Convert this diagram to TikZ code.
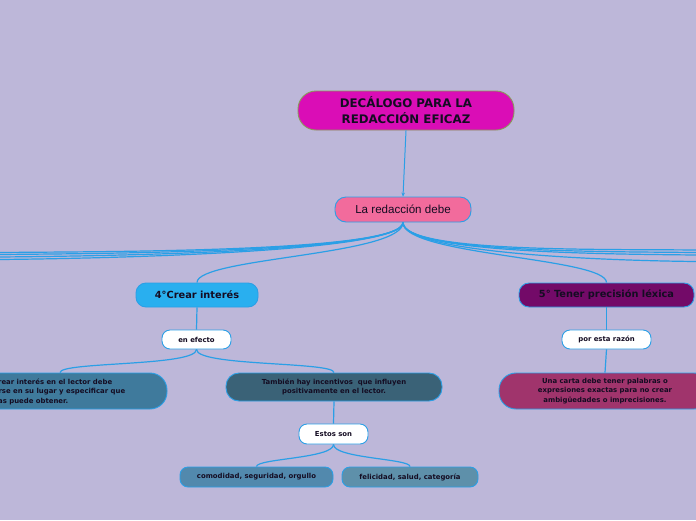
\documentclass[tikz,border=0pt]{standalone}
\usepackage{fontspec}
\setmainfont{DejaVu Sans}
\newfontfamily\arialf{Liberation Sans}
\usetikzlibrary{arrows.meta}
\definecolor{bg}{HTML}{BDB7D9}
\definecolor{cline}{HTML}{2B9FE6}
\definecolor{txt}{HTML}{140C22}
\definecolor{rootc}{HTML}{DA0DB6}
\definecolor{rootb}{HTML}{8A9A5B}
\definecolor{redc}{HTML}{F26B9C}
\definecolor{c4c}{HTML}{29AFEF}
\definecolor{c5c}{HTML}{730A68}
\definecolor{lbc}{HTML}{3F7A9C}
\definecolor{tbc}{HTML}{3A6277}
\definecolor{coc}{HTML}{5289AD}
\definecolor{fec}{HTML}{5E90AA}
\definecolor{cac}{HTML}{A0346C}
\tikzset{
  box/.style={draw=cline, line width=0.9pt, inner sep=0pt, text=txt, align=center},
  smallfont/.style={font=\bfseries\fontsize{6.9}{9.4}\selectfont},
  midfont/.style={font=\bfseries\fontsize{9.8}{12}\selectfont},
  conn/.style={draw=cline, line width=1.2pt},
}
\begin{document}
\begin{tikzpicture}[x=1pt,y=-1pt]
\useasboundingbox (0,0) rectangle (696,520);
\fill[bg] (0,0) rectangle (696,520);
\begin{scope}
\clip (0,0) rectangle (696,520);
% edge coordinates
\coordinate (L1) at (0,252.5);
\coordinate (L2) at (0,254.5);
\coordinate (L3) at (0,257);
\coordinate (L4) at (0,259.5);
\coordinate (R1) at (696,250);
\coordinate (R2) at (696,252.5);
\coordinate (R3) at (696,255);
\coordinate (R4) at (696,261.5);
% nodes
\node[box, fill=rootc, draw=rootb, minimum width=216, minimum height=39, rounded corners=18,
  font=\bfseries\fontsize{11.8}{16}\selectfont] (root) at (406,110.5) {DECÁLOGO PARA LA\\ REDACCIÓN EFICAZ};
\node[box, fill=redc, minimum width=136, minimum height=25, rounded corners=11,
  font=\arialf\fontsize{11.6}{13}\selectfont] (red) at (403,209.5) {La redacción debe};
\node[box, fill=c4c, minimum width=122, minimum height=24, rounded corners=10, midfont] (c4) at (197,295) {4°Crear interés};
\node[box, fill=c5c, minimum width=175, minimum height=24, rounded corners=10, midfont] (c5) at (606.5,295) {5° Tener precisión léxica};
\node[box, fill=white, minimum width=69, minimum height=19, rounded corners=8, smallfont] (ef) at (196.5,339.5) {en efecto};
\node[box, fill=white, minimum width=89, minimum height=19, rounded corners=8, smallfont] (pr) at (606.5,339.5) {por esta razón};
\node[box, fill=lbc, minimum width=214, minimum height=36, rounded corners=17] (lb) at (60,391) {};
\node[text=txt, smallfont, anchor=north west, align=left, inner sep=0pt] (lbt) at (0,378.5)
  {\makebox[112pt][r]{Crear interés en el lector debe}\\
   \makebox[125pt][r]{ponerse en su lugar y especificar que}\\
   \makebox[68pt][r]{ventajas puede obtener.}};
\node[box, fill=tbc, minimum width=216, minimum height=28, rounded corners=13, smallfont] (tb) at (334,387)
  {También hay incentivos\ \ que influyen\\ positivamente en el lector.};
\node[box, fill=white, minimum width=69, minimum height=20, rounded corners=8, smallfont] (es) at (333.5,434) {Estos son};
\node[box, fill=coc, minimum width=153, minimum height=20, rounded corners=8, smallfont] (co) at (256.5,477) {comodidad, seguridad, orgullo};
\node[box, fill=fec, minimum width=136, minimum height=20, rounded corners=8, smallfont] (fe) at (410,477) {felicidad, salud, categoría};
\node[box, fill=cac, minimum width=212, minimum height=36, rounded corners=17, smallfont] (ca) at (605,391)
  {Una carta debe tener palabras o\\ expresiones exactas para no crear\\ ambigüedades o imprecisiones.};
% connectors
\draw[conn, line width=1pt, -{Stealth[length=4pt,width=3.5pt]}] (root.south) -- (red.north);
\draw[conn] (red.south) .. controls +(0,33) and +(0,-25) .. (c4.north);
\draw[conn] (red.south) .. controls +(0,33) and +(0,-25) .. (c5.north);
\foreach \p in {L1,L2,L3,L4} {
  \draw[conn] (red.south) .. controls +(0,30) and +(100,-1) .. (\p);
}
\foreach \p in {R1,R2,R3,R4} {
  \draw[conn] (red.south) .. controls +(0,30) and +(-100,-1) .. (\p);
}
\draw[conn] (c4.south) -- (ef.north);
\draw[conn] (ef.south) .. controls +(0,17) and +(0,-11) .. (lb.north);
\draw[conn] (ef.south) .. controls +(0,17) and +(0,-11) .. (tb.north);
\draw[conn] (tb.south) -- (es.north);
\draw[conn] (es.south) .. controls +(0,14) and +(0,-8) .. (co.north);
\draw[conn] (es.south) .. controls +(0,14) and +(0,-8) .. (fe.north);
\draw[conn] (c5.south) -- (pr.north);
\draw[conn] (pr.south) -- (ca.north);
\end{scope}
\end{tikzpicture}
\end{document}
